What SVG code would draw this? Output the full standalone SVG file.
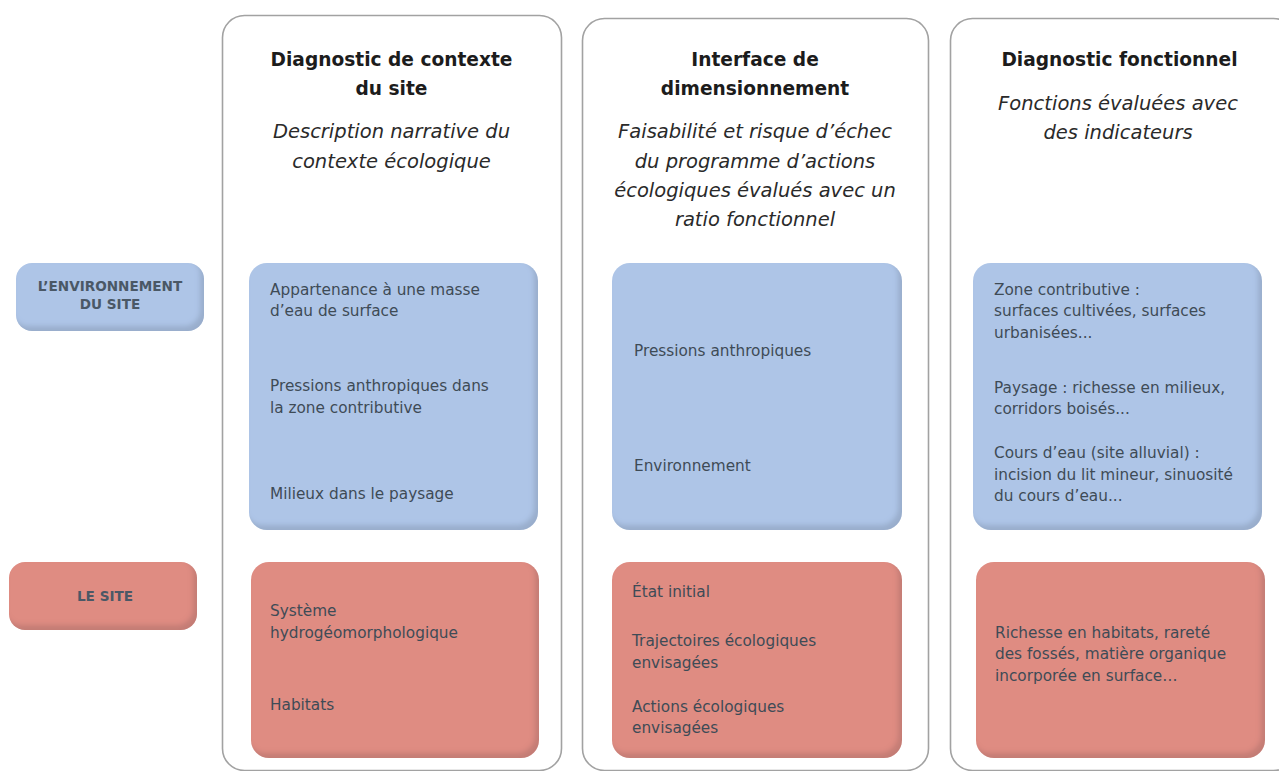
<svg xmlns="http://www.w3.org/2000/svg" width="1279" height="771" viewBox="0 0 1279 771">
<defs>
<filter id="bev" x="-5%" y="-5%" width="110%" height="110%">
<feOffset in="SourceAlpha" dx="-4" dy="-5" result="off"/>
<feGaussianBlur in="off" stdDeviation="2.6" result="blur"/>
<feComposite in="SourceAlpha" in2="blur" operator="out" result="inner"/>
<feFlood flood-color="#203040" flood-opacity="0.26"/>
<feComposite in2="inner" operator="in" result="shadow"/>
<feMerge><feMergeNode in="SourceGraphic"/><feMergeNode in="shadow"/></feMerge>
</filter>
</defs>
<style>
.col{fill:#fff;stroke:#a2a2a2;stroke-width:1.6}
.blue{fill:#aec5e7;filter:url(#bev)}
.red{fill:#df8c82;filter:url(#bev)}
.title{font-family:"DejaVu Sans",sans-serif;font-weight:bold;font-size:18.6px;fill:#1c1c1c;text-anchor:middle}
.sub{font-family:"DejaVu Sans",sans-serif;font-style:italic;font-size:19.5px;fill:#2a2a2a;text-anchor:middle}
.body{font-family:"DejaVu Sans",sans-serif;font-size:15.3px;fill:#3e4b56}
.lab{font-family:"DejaVu Sans",sans-serif;font-weight:bold;font-size:13.6px;fill:#4a5866;text-anchor:middle}
</style>
<rect width="1279" height="771" fill="#fff"/>

<g id="col-contexte">
<rect class="col" x="222.5" y="15.5" width="339" height="755" rx="22"/>
<text class="title" x="391.5" y="66">Diagnostic de contexte</text>
<text class="title" x="391.5" y="95">du site</text>
<text class="sub" x="391.5" y="138">Description narrative du</text>
<text class="sub" x="391.5" y="168">contexte écologique</text>
</g>

<g id="col-interface">
<rect class="col" x="582.5" y="18.5" width="346" height="752" rx="22"/>
<text class="title" x="755" y="66">Interface de</text>
<text class="title" x="755" y="95">dimensionnement</text>
<text class="sub" x="755" y="138">Faisabilité et risque d’échec</text>
<text class="sub" x="755" y="168">du programme d’actions</text>
<text class="sub" x="755" y="197">écologiques évalués avec un</text>
<text class="sub" x="755" y="226">ratio fonctionnel</text>
</g>

<g id="col-fonctionnel">
<rect class="col" x="950.5" y="18.5" width="345" height="752" rx="22"/>
<text class="title" x="1119.5" y="66">Diagnostic fonctionnel</text>
<text class="sub" x="1118" y="110">Fonctions évaluées avec</text>
<text class="sub" x="1118" y="139">des indicateurs</text>
</g>

<g id="label-environnement">
<rect class="blue" x="16" y="263" width="188" height="68" rx="16"/>
<text class="lab" x="110" y="291">L’ENVIRONNEMENT</text>
<text class="lab" x="110" y="309">DU SITE</text>
</g>

<g id="label-site">
<rect class="red" x="9" y="562" width="188" height="68" rx="16"/>
<text class="lab" x="105" y="601">LE SITE</text>
</g>

<g id="env-contexte">
<rect class="blue" x="249" y="263" width="289" height="267" rx="18"/>
<text class="body" x="270" y="295">Appartenance à une masse</text>
<text class="body" x="270" y="316">d’eau de surface</text>
<text class="body" x="270" y="391">Pressions anthropiques dans</text>
<text class="body" x="270" y="413">la zone contributive</text>
<text class="body" x="270" y="499">Milieux dans le paysage</text>
</g>

<g id="env-interface">
<rect class="blue" x="612" y="263" width="290" height="267" rx="18"/>
<text class="body" x="634" y="356">Pressions anthropiques</text>
<text class="body" x="634" y="471">Environnement</text>
</g>

<g id="env-fonctionnel">
<rect class="blue" x="973" y="263" width="289" height="267" rx="18"/>
<text class="body" x="994" y="295">Zone contributive :</text>
<text class="body" x="994" y="316">surfaces cultivées, surfaces</text>
<text class="body" x="994" y="338">urbanisées...</text>
<text class="body" x="994" y="393">Paysage : richesse en milieux,</text>
<text class="body" x="994" y="414">corridors boisés...</text>
<text class="body" x="994" y="458">Cours d’eau (site alluvial) :</text>
<text class="body" x="994" y="480">incision du lit mineur, sinuosité</text>
<text class="body" x="994" y="501">du cours d’eau...</text>
</g>

<g id="site-contexte">
<rect class="red" x="251" y="562" width="288" height="196" rx="18"/>
<text class="body" x="270" y="616">Système</text>
<text class="body" x="270" y="638">hydrogéomorphologique</text>
<text class="body" x="270" y="710">Habitats</text>
</g>

<g id="site-interface">
<rect class="red" x="612" y="562" width="290" height="196" rx="18"/>
<text class="body" x="632" y="597">État initial</text>
<text class="body" x="632" y="646">Trajectoires écologiques</text>
<text class="body" x="632" y="668">envisagées</text>
<text class="body" x="632" y="712">Actions écologiques</text>
<text class="body" x="632" y="733">envisagées</text>
</g>

<g id="site-fonctionnel">
<rect class="red" x="976" y="562" width="289" height="196" rx="18"/>
<text class="body" x="995" y="638">Richesse en habitats, rareté</text>
<text class="body" x="995" y="659">des fossés, matière organique</text>
<text class="body" x="995" y="681">incorporée en surface…</text>
</g>

<g id="connectors"></g>
</svg>
